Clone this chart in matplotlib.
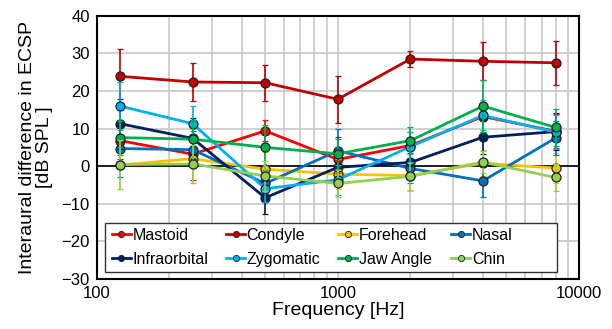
import numpy as np
import matplotlib
matplotlib.use("Agg")
import matplotlib.pyplot as plt
from matplotlib.legend import Legend
from matplotlib.lines import Line2D
from matplotlib.patches import Rectangle
from matplotlib.ticker import FixedLocator, NullFormatter

plt.rcParams['font.family'] = ['Liberation Sans', 'DejaVu Sans']

freqs = [125, 250, 500, 1000, 2000, 4000, 8000]
names = ['Mastoid', 'Condyle', 'Forehead', 'Nasal',
         'Infraorbital', 'Zygomatic', 'Jaw Angle', 'Chin']
colors = ['#FF0000', '#C00000', '#FFC000', '#0070C0',
          '#002060', '#00B0F0', '#00B050', '#92D050']

# mean interaural difference [dB]
mastoid      = [6.8, 3.2, 9.4, 1.8, 5.5, 13.2, 9.3]
condyle      = [23.9, 22.4, 22.2, 17.8, 28.5, 27.9, 27.5]
forehead     = [0.3, 2.0, -0.8, -2.1, -2.5, 0.8, -0.5]
nasal        = [4.7, 4.4, -4.6, 4.1, -0.6, -3.9, 7.5]
infraorbital = [11.3, 7.4, -8.4, -0.3, 1.0, 7.7, 9.2]
zygomatic    = [16.0, 11.3, -6.0, -3.6, 5.2, 13.5, 9.1]
jaw_angle    = [7.6, 7.2, 5.0, 3.3, 6.8, 16.0, 10.3]
chin         = [0.45, 0.6, -2.6, -4.6, -2.7, 1.1, -3.0]

# standard deviations (error bars)
mastoid_sd      = [5.0, 7.0, 2.8, 6.0, 3.5, 4.0, 4.5]
condyle_sd      = [7.4, 5.1, 4.8, 6.2, 2.2, 5.0, 5.8]
forehead_sd     = [6.4, 6.5, 4.5, 4.0, 4.1, 3.5, 4.0]
nasal_sd        = [7.7, 5.0, 5.0, 5.9, 4.0, 4.4, 4.5]
infraorbital_sd = [6.7, 5.5, 4.4, 4.0, 4.0, 4.5, 5.0]
zygomatic_sd    = [6.3, 4.8, 3.5, 4.0, 4.0, 4.0, 4.5]
jaw_angle_sd    = [4.5, 5.0, 6.0, 4.0, 3.5, 7.0, 5.0]
chin_sd         = [6.6, 5.0, 4.0, 3.7, 3.5, 3.0, 3.6]

series = [mastoid, condyle, forehead, nasal, infraorbital, zygomatic, jaw_angle, chin]
errors = [mastoid_sd, condyle_sd, forehead_sd, nasal_sd,
          infraorbital_sd, zygomatic_sd, jaw_angle_sd, chin_sd]

fig = plt.figure(figsize=(6.12, 3.29), dpi=100)
ax = fig.add_axes([0.158, 0.152, 0.788, 0.8])

for i, (name, c, y, e) in enumerate(zip(names, colors, series, errors)):
    ax.errorbar(freqs, y, yerr=e, color=c, ecolor=c, elinewidth=1.2,
                capsize=2, capthick=1.2, lw=2, marker='o',
                markersize=6.5, markeredgecolor='#222222', markeredgewidth=0.9,
                markerfacecolor=c, zorder=3 + i)

ax.set_xscale('log')
ax.set_xlim(100, 10000)
ax.set_ylim(-30, 40)
ax.set_yticks(np.arange(-30, 41, 10))
ax.xaxis.set_major_locator(FixedLocator([100, 1000, 10000]))
ax.set_xticklabels(['100', '1000', '10000'])
minors = [m * d for d in (100, 1000) for m in range(2, 10)]
ax.xaxis.set_minor_locator(FixedLocator(minors))
ax.xaxis.set_minor_formatter(NullFormatter())
ax.grid(True, which='both', axis='x', color='#c8c8c8', lw=1.2, zorder=0)
ax.grid(True, which='major', axis='y', color='#c8c8c8', lw=1.2, zorder=0)
ax.axhline(0, color='black', lw=1.2, zorder=2)
ax.tick_params(which='both', length=0, labelsize=12, pad=5)
for s in ax.spines.values():
    s.set_linewidth(1.5)
    s.set_color('black')

ax.set_xlabel('Frequency [Hz]', fontsize=14, labelpad=1)
ax.set_ylabel('Interaural difference in ECSP\n[dB SPL ]', fontsize=14,
              linespacing=1.0, labelpad=6)

# legend: one box, four equal columns, filled row by row
ax.add_patch(Rectangle((0.017, 0.025), 0.937, 0.189, transform=ax.transAxes,
                       facecolor='white', edgecolor='#333333', lw=1.0,
                       zorder=19))
handles = [Line2D([], [], color=c, lw=2, marker='o', markersize=4.5,
                  markeredgecolor='#222222', markeredgewidth=0.6)
           for c in colors]
col_x = [0.031, 0.268, 0.501, 0.735]
for j, x in enumerate(col_x):
    leg = Legend(ax, [handles[j], handles[j + 4]], [names[j], names[j + 4]],
                 loc='center left', bbox_to_anchor=(x, 0.121),
                 fontsize=11.5, frameon=False, borderpad=0,
                 borderaxespad=0, handlelength=1.2, handletextpad=0.1,
                 labelspacing=0.55)
    leg.set_zorder(20)
    ax.add_artist(leg)

fig.savefig('out.png', dpi=100)
